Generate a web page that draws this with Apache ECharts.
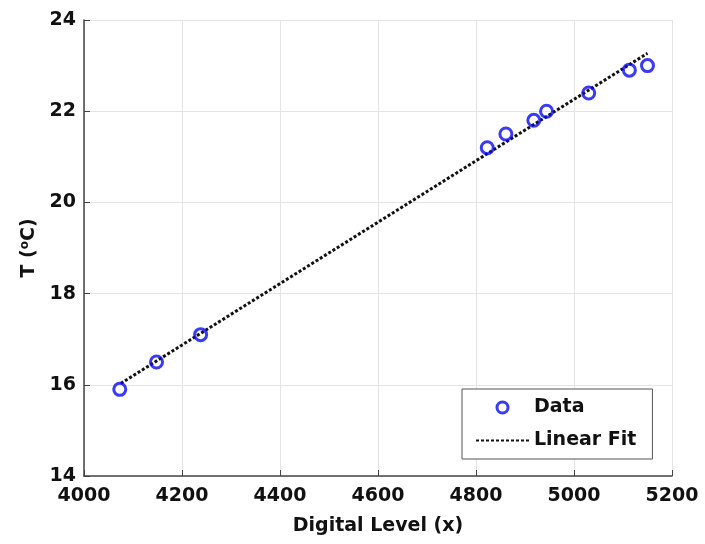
<!DOCTYPE html>
<html><head><meta charset="utf-8">
<script src="https://cdn.jsdelivr.net/npm/echarts@6/dist/echarts.min.js"></script>
<style>html,body{margin:0;padding:0;background:#fff}#c{width:705px;height:544px}</style>
</head><body><div id="c"></div>
<script>
const dataX = [4073, 4148, 4238, 4823, 4861, 4918, 4944, 5030, 5113, 5150];
const dataY = [15.9, 16.5, 17.1, 21.2, 21.5, 21.8, 22.0, 22.4, 22.9, 23.0];
const fitX = [4075, 5150];
const fitY = [16.03, 23.27];
const xTicks = [4000, 4200, 4400, 4600, 4800, 5000, 5200];
const yTicks = [14, 16, 18, 20, 22, 24];

const font = '"DejaVu Sans", sans-serif';
const blue = '#0a0af2';
const chart = echarts.init(document.getElementById('c'));
chart.setOption({
  animation: false,
  backgroundColor: '#fff',
  grid: {left: 84, right: 33, top: 20, bottom: 68},
  legend: {
    left: 462, top: 389, orient: 'vertical',
    padding: [9, 16, 9, 13],
    borderColor: '#555', borderWidth: 1, backgroundColor: '#fff',
    itemWidth: 53, itemHeight: 11, itemGap: 14,
    textStyle: {fontFamily: font, fontWeight: 'bold', fontSize: 19, color: '#111'},
    data: [
      {name: 'Data', itemStyle: {color: 'rgba(255,255,255,0)', borderColor: blue, borderWidth: 3}},
      {name: 'Linear Fit', itemStyle: {opacity: 0}}
    ]
  },
  xAxis: {
    type: 'value', min: xTicks[0], max: xTicks[xTicks.length - 1], interval: xTicks[1] - xTicks[0],
    name: 'Digital Level (x)', nameLocation: 'middle', nameGap: 41,
    nameTextStyle: {fontFamily: font, fontWeight: 'bold', fontSize: 19, color: '#111'},
    axisLine: {show: true, lineStyle: {color: '#444', width: 1.5}},
    axisTick: {show: true, inside: true, length: 6, lineStyle: {color: '#444'}},
    axisLabel: {fontFamily: font, fontWeight: 'bold', fontSize: 19, color: '#111', margin: 11,
      formatter: v => String(v)},
    splitLine: {show: true, lineStyle: {color: '#e4e4e4', width: 1}}
  },
  yAxis: {
    type: 'value', min: yTicks[0], max: yTicks[yTicks.length - 1], interval: yTicks[1] - yTicks[0],
    name: 'T ({s|o}C)', nameLocation: 'middle', nameGap: 42, nameRotate: 90,
    nameTextStyle: {fontFamily: font, fontWeight: 'bold', fontSize: 19, color: '#111',
      rich: {s: {fontFamily: font, fontWeight: 'bold', fontSize: 12, color: '#111', verticalAlign: 'top', padding: [0, 0, 8, 0]}}},
    axisLine: {show: true, lineStyle: {color: '#444', width: 1.5}},
    axisTick: {show: true, inside: true, length: 6, lineStyle: {color: '#444'}},
    axisLabel: {fontFamily: font, fontWeight: 'bold', fontSize: 19, color: '#111', margin: 8,
      formatter: v => String(v)},
    splitLine: {show: true, lineStyle: {color: '#e4e4e4', width: 1}}
  },
  series: [
    {
      name: 'Linear Fit', type: 'line', symbol: 'none', z: 2,
      data: fitX.map((x, i) => [x, fitY[i]]),
      lineStyle: {color: '#111', width: 3, type: [3, 2]},
      itemStyle: {color: '#111'}
    },
    {
      name: 'Data', type: 'scatter', symbol: 'circle', symbolSize: 12, z: 3,
      data: dataX.map((x, i) => [x, dataY[i]]),
      itemStyle: {color: 'rgba(255,255,255,0)', borderColor: blue, borderWidth: 3}
    }
  ]
});
</script></body></html>
